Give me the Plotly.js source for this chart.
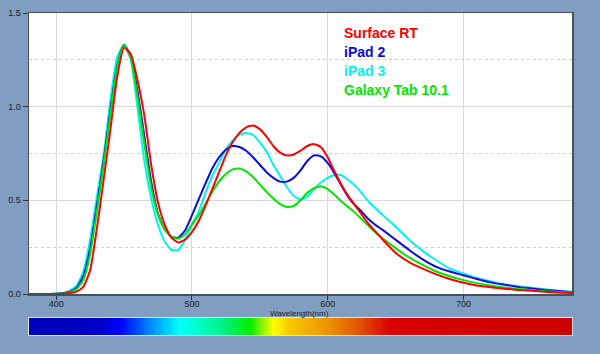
<!DOCTYPE html>
<html>
<head>
<meta charset="utf-8">
<script src="https://cdn.plot.ly/plotly-3.0.1.min.js"></script>
<style>html,body{margin:0;padding:0;background:#7f9ec1;}#chart{width:600px;height:354px;}</style>
</head>
<body>
<div id="chart"></div>
<script>
const wavelength = [380,385,390,395,400,405,410,415,420,425,430,435,440,445,450,455,460,465,470,475,480,485,490,495,500,505,510,515,520,525,530,535,540,545,550,555,560,565,570,575,580,585,590,595,600,605,610,615,620,625,630,635,640,650,660,670,680,690,700,710,720,730,740,750,760,770,780];

const surfaceRT = [0,0,0,0,0,0.002,0.005,0.013,0.038,0.125,0.35,0.61,0.88,1.16,1.315,1.28,1.14,0.95,0.69,0.49,0.37,0.30,0.275,0.29,0.33,0.39,0.47,0.56,0.65,0.74,0.81,0.86,0.89,0.90,0.88,0.84,0.79,0.755,0.74,0.745,0.765,0.79,0.80,0.785,0.73,0.655,0.585,0.525,0.475,0.425,0.375,0.335,0.295,0.22,0.17,0.135,0.105,0.08,0.06,0.045,0.036,0.028,0.022,0.017,0.012,0.008,0.006];

const iPad2 = [0,0,0,0,0.001,0.004,0.012,0.032,0.095,0.24,0.47,0.71,0.98,1.22,1.33,1.27,1.08,0.84,0.60,0.43,0.345,0.305,0.30,0.34,0.42,0.505,0.59,0.67,0.73,0.77,0.79,0.785,0.765,0.73,0.69,0.65,0.62,0.60,0.60,0.62,0.66,0.71,0.74,0.735,0.70,0.645,0.58,0.52,0.475,0.44,0.40,0.37,0.345,0.29,0.235,0.185,0.145,0.12,0.10,0.08,0.062,0.05,0.038,0.03,0.022,0.016,0.01];

const iPad3 = [0,0,0,0,0.002,0.006,0.018,0.045,0.12,0.29,0.52,0.74,1.04,1.265,1.33,1.25,0.99,0.71,0.51,0.37,0.28,0.235,0.235,0.29,0.37,0.44,0.54,0.63,0.70,0.77,0.82,0.85,0.86,0.85,0.81,0.76,0.69,0.63,0.57,0.525,0.505,0.52,0.56,0.595,0.62,0.635,0.635,0.61,0.58,0.54,0.495,0.46,0.425,0.36,0.29,0.23,0.18,0.135,0.11,0.085,0.068,0.052,0.042,0.033,0.025,0.018,0.012];

const galaxyTab = [0,0,0,0,0.001,0.003,0.01,0.025,0.075,0.21,0.44,0.69,0.96,1.21,1.33,1.26,1.05,0.80,0.57,0.425,0.345,0.305,0.295,0.32,0.37,0.42,0.48,0.545,0.60,0.64,0.665,0.67,0.655,0.625,0.585,0.545,0.51,0.48,0.465,0.47,0.50,0.54,0.565,0.575,0.56,0.53,0.495,0.465,0.435,0.40,0.365,0.33,0.30,0.245,0.195,0.155,0.12,0.095,0.074,0.058,0.045,0.035,0.027,0.021,0.015,0.011,0.008];

const seriesNames = ["Surface RT","iPad 2","iPad 3","Galaxy Tab 10.1"];
const seriesColors = ["#ff0000","#0a0ae0","#00f2f2","#00e600"];

const xTicks = [400,500,600,700];
const yTicks = [0,0.5,1.0,1.5];

// spectrum strip
const stripX = [];
for (let w = 380; w <= 780; w += 2) stripX.push(w);
const stripZ = [stripX.slice()];
function n(w){return (w-380)/400;}
const spectrum = [
  [n(380),"#0000b8"],[n(432),"#0000c8"],[n(447),"#0000ff"],[n(458),"#0040ff"],
  [n(469),"#0088ff"],[n(491),"#00ffff"],[n(506),"#00ffc0"],[n(524),"#00f080"],
  [n(543),"#00ee00"],[n(551),"#80f000"],[n(560),"#ffff00"],[n(572),"#f8c800"],
  [n(601),"#ec9000"],[n(624),"#e05000"],[n(646),"#d80000"],[n(780),"#cc0000"]
];

const order = [2,1,3,0];
const ys = [surfaceRT, iPad2, iPad3, galaxyTab];
const traces = order.map(i => ({
  x: wavelength, y: ys[i], type: "scatter", mode: "lines", name: seriesNames[i],
  line: {color: seriesColors[i], width: 2, shape: "spline", smoothing: 0.5},
  xaxis: "x", yaxis: "y", hoverinfo: "skip"
}));
traces.push({
  x: stripX, y: [0], z: stripZ, type: "heatmap", colorscale: spectrum,
  zmin: 380, zmax: 780, showscale: false, xaxis: "x2", yaxis: "y2", hoverinfo: "skip"
});

const annotations = seriesNames.map((s, i) => ({
  text: "<b>" + s + "</b>", xref: "paper", yref: "paper",
  x: (342-29)/543, y: 1 - ((32.5 + i*19.3) - 13)/322,
  xanchor: "left", yanchor: "middle", showarrow: false,
  font: {family: "Liberation Sans, Arial", size: 14, color: seriesColors[i]}
}));
annotations.push({
  text: "Wavelength(nm)", xref: "paper", yref: "paper",
  x: (299-29)/543, y: (335-313.5)/322, xanchor: "center", yanchor: "middle",
  showarrow: false, font: {family: "Liberation Sans, Arial", size: 8, color: "#222"}
});

const layout = {
  width: 600, height: 354,
  paper_bgcolor: "#7f9ec1", plot_bgcolor: "#ffffff",
  margin: {l: 29, r: 28, t: 13, b: 19},
  showlegend: false,
  font: {family: "Liberation Sans, Arial", size: 9, color: "#222"},
  xaxis: {
    range: [380, 780], tickvals: xTicks, ticktext: xTicks.map(String),
    ticks: "outside", ticklen: 4, tickcolor: "#333", ticklabelstandoff: -3,
    showgrid: true, gridcolor: "#d8d8d8", gridwidth: 1,
    showline: true, linecolor: "#4a5058", linewidth: 1.5, mirror: true,
    zeroline: false, anchor: "y",
    tickfont: {size: 9, color: "#222"}
  },
  yaxis: {
    domain: [(335-294)/322, 1], range: [0, 1.5], tickvals: yTicks,
    tickformat: ".1f", ticks: "outside", ticklen: 5, tickcolor: "#333",
    showgrid: true, gridcolor: "#d8d8d8", gridwidth: 1,
    minor: {dtick: 0.5, tick0: 0.25, showgrid: true, gridcolor: "#d0d0d0", griddash: "dot", ticks: ""},
    showline: true, linecolor: "#4a5058", linewidth: 1.5, mirror: true,
    zeroline: false, anchor: "x",
    tickfont: {size: 9, color: "#222"}
  },
  xaxis2: {
    range: [380, 780], anchor: "y2", showticklabels: false, ticks: "",
    showgrid: false, zeroline: false,
    showline: true, linecolor: "#dde4ec", linewidth: 1, mirror: true
  },
  yaxis2: {
    domain: [0, (335-318)/322], range: [-0.5, 0.5], anchor: "x2",
    showticklabels: false, ticks: "", showgrid: false, zeroline: false,
    showline: true, linecolor: "#dde4ec", linewidth: 1, mirror: true
  },
  annotations: annotations
};

Plotly.newPlot("chart", traces, layout, {displayModeBar: false, staticPlot: true});
</script>
</body>
</html>
